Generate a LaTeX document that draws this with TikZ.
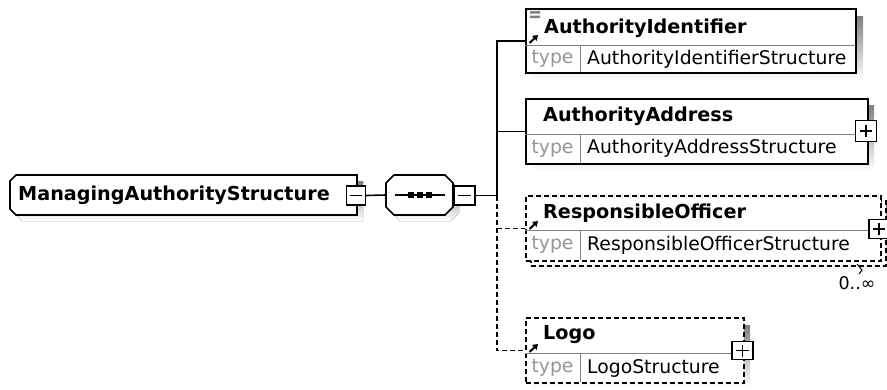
\documentclass[tikz,border=0pt]{standalone}
\usepackage{fontspec}
\setmainfont{DejaVu Sans}
\usetikzlibrary{arrows.meta}
\definecolor{shade}{RGB}{196,196,196}
\definecolor{typegray}{RGB}{150,150,150}
\definecolor{rulegray}{RGB}{128,128,128}

\begin{document}
\begin{tikzpicture}[x=1pt,y=-1pt,line join=miter,
  edge/.style={line width=1.6pt},
  dashedge/.style={line width=1.6pt,dash pattern=on 5pt off 3pt},
  frame/.style={draw,line width=1.6pt,fill=white,inner sep=0pt,rectangle,anchor=north west},
  dframe/.style={frame,dash pattern=on 5pt off 3pt},
  sep/.style={draw=rulegray,line width=1pt},
  elname/.style={anchor=west,inner sep=0pt,font=\fontsize{19.2}{20}\selectfont\bfseries},
  typelbl/.style={anchor=center,inner sep=0pt,text=typegray,font=\fontsize{18.8}{20}\selectfont},
  typeval/.style={anchor=west,inner sep=0pt,font=\fontsize{18.8}{20}\selectfont},
  togglebox/.style={draw,line width=1.4pt,fill=white,inner sep=0pt,rectangle,minimum width=19pt,minimum height=19pt},
  refarrow/.style={line width=2pt,-{Triangle[length=5pt,width=6.5pt]}}
]
\useasboundingbox (0,0) rectangle (887,389);

% ---- root complex type ----
\fill[shade] (22,181) -- (363,181) -- (363,221) -- (22,221) -- (16,215) -- (16,187) -- cycle;
\draw[edge,fill=white] (16,175) -- (357,175) -- (357,215) -- (16,215) -- (10,209) -- (10,181) -- cycle;
\node[elname] (root) at (18,195) {ManagingAuthorityStructure};
\node[togglebox] (rootm) at (356,195.5) {};
\draw[line width=1.3pt] (350,195.5) -- (362,195.5);

% ---- sequence compositor ----
\fill[shade] (400,181) -- (451,181) -- (459,189) -- (459,213) -- (451,221) -- (400,221) -- (392,213) -- (392,189) -- cycle;
\draw[edge,fill=white] (394,175) -- (445,175) -- (453,183) -- (453,207) -- (445,215) -- (394,215) -- (386,207) -- (386,183) -- cycle;
\coordinate (seqin) at (386,195);
\draw[line width=1.3pt] (395,195) -- (445,195);
\foreach \dx in {411,420,429} \fill (\dx-3,192) rectangle (\dx+3,198);
\node[togglebox,minimum width=21pt] (seqm) at (464.5,195.5) {};
\draw[line width=1.3pt] (458,195.5) -- (471,195.5);
\draw[edge] (rootm.east) -- (seqin);

% ---- child elements ----
% AuthorityIdentifier
\fill[shade] (532,16) rectangle (863,80);
\node[frame,minimum width=330pt,minimum height=64pt] (ai) at (525,8) {};
\draw[sep] (525,45) -- (855,45) (580,45) -- (580,72);
\fill[rulegray] (530,11) rectangle (540,13.5) (530,15.5) rectangle (540,18);
\draw[refarrow] (529.5,43) -- (538,35);
\node[elname] at (544,28) {AuthorityIdentifier};
\node[typelbl] at (552.5,59) {type};
\node[typeval] at (587,59) {AuthorityIdentifierStructure};

% AuthorityAddress
\fill[shade] (532,105) rectangle (874,171);
\node[frame,minimum width=342pt,minimum height=65pt] (aa) at (525,98) {};
\draw[sep] (525,134) -- (867,134) (580,134) -- (580,163);
\node[elname] at (543,116) {AuthorityAddress};
\node[typelbl] at (552.5,148.5) {type};
\node[typeval] at (587,148.5) {AuthorityAddressStructure};
\node[togglebox,minimum width=21pt,minimum height=21pt] (aap) at (866,131) {};
\draw[line width=1.3pt] (860,131) -- (872,131) (866,125) -- (866,137);

% ResponsibleOfficer (repeating, optional)
\fill[shade] (534,205) rectangle (890,272);
\node[dframe,minimum width=355pt,minimum height=65pt] (roback) at (530,200) {};
\node[dframe,minimum width=355pt,minimum height=65pt] (ro) at (525,195) {};
\draw[sep] (525,230) -- (880,230) (580,230) -- (580,260);
\draw[refarrow] (529.5,229) -- (538,221);
\node[elname] at (543,213) {ResponsibleOfficer};
\node[typelbl] at (552.5,245) {type};
\node[typeval] at (587,245) {ResponsibleOfficerStructure};
\node[togglebox,minimum width=20pt,minimum height=19pt] (rop) at (879,229) {};
\draw[line width=1.3pt] (873,229) -- (885,229) (879,223) -- (879,235);
\draw[line width=1pt] (857,264) -- (862,270) -- (859,274);
\node[anchor=center,inner sep=0pt,font=\fontsize{17.5}{18}\selectfont] (romult) at (857,283) {0..∞};

% Logo (optional)
\fill[shade] (531,325) rectangle (750,388);
\node[dframe,minimum width=218pt,minimum height=65pt] (logo) at (525,317) {};
\draw[sep] (525,353) -- (743,353) (580,353) -- (580,382);
\draw[refarrow] (529.5,352) -- (538,344);
\node[elname] at (543,335) {Logo};
\node[typelbl] at (552.5,368) {type};
\node[typeval] at (587,368) {LogoStructure};
\node[togglebox,minimum width=21pt,minimum height=18pt] (logop) at (742.5,350.5) {};
\draw[line width=1.3pt] (736,350.5) -- (749,350.5) (742.5,344.5) -- (742.5,356.5);

% ---- connectors from the sequence ----
\coordinate (bus) at (497,195.5);
\draw[edge] (seqm.east) -- (bus) |- (ai.west);
\draw[edge] (bus |- aa.west) -- (aa.west);
\draw[dashedge] (bus) |- (logo.west);
\draw[dashedge] (bus |- ro.west) -- (ro.west);
\end{tikzpicture}
\end{document}
